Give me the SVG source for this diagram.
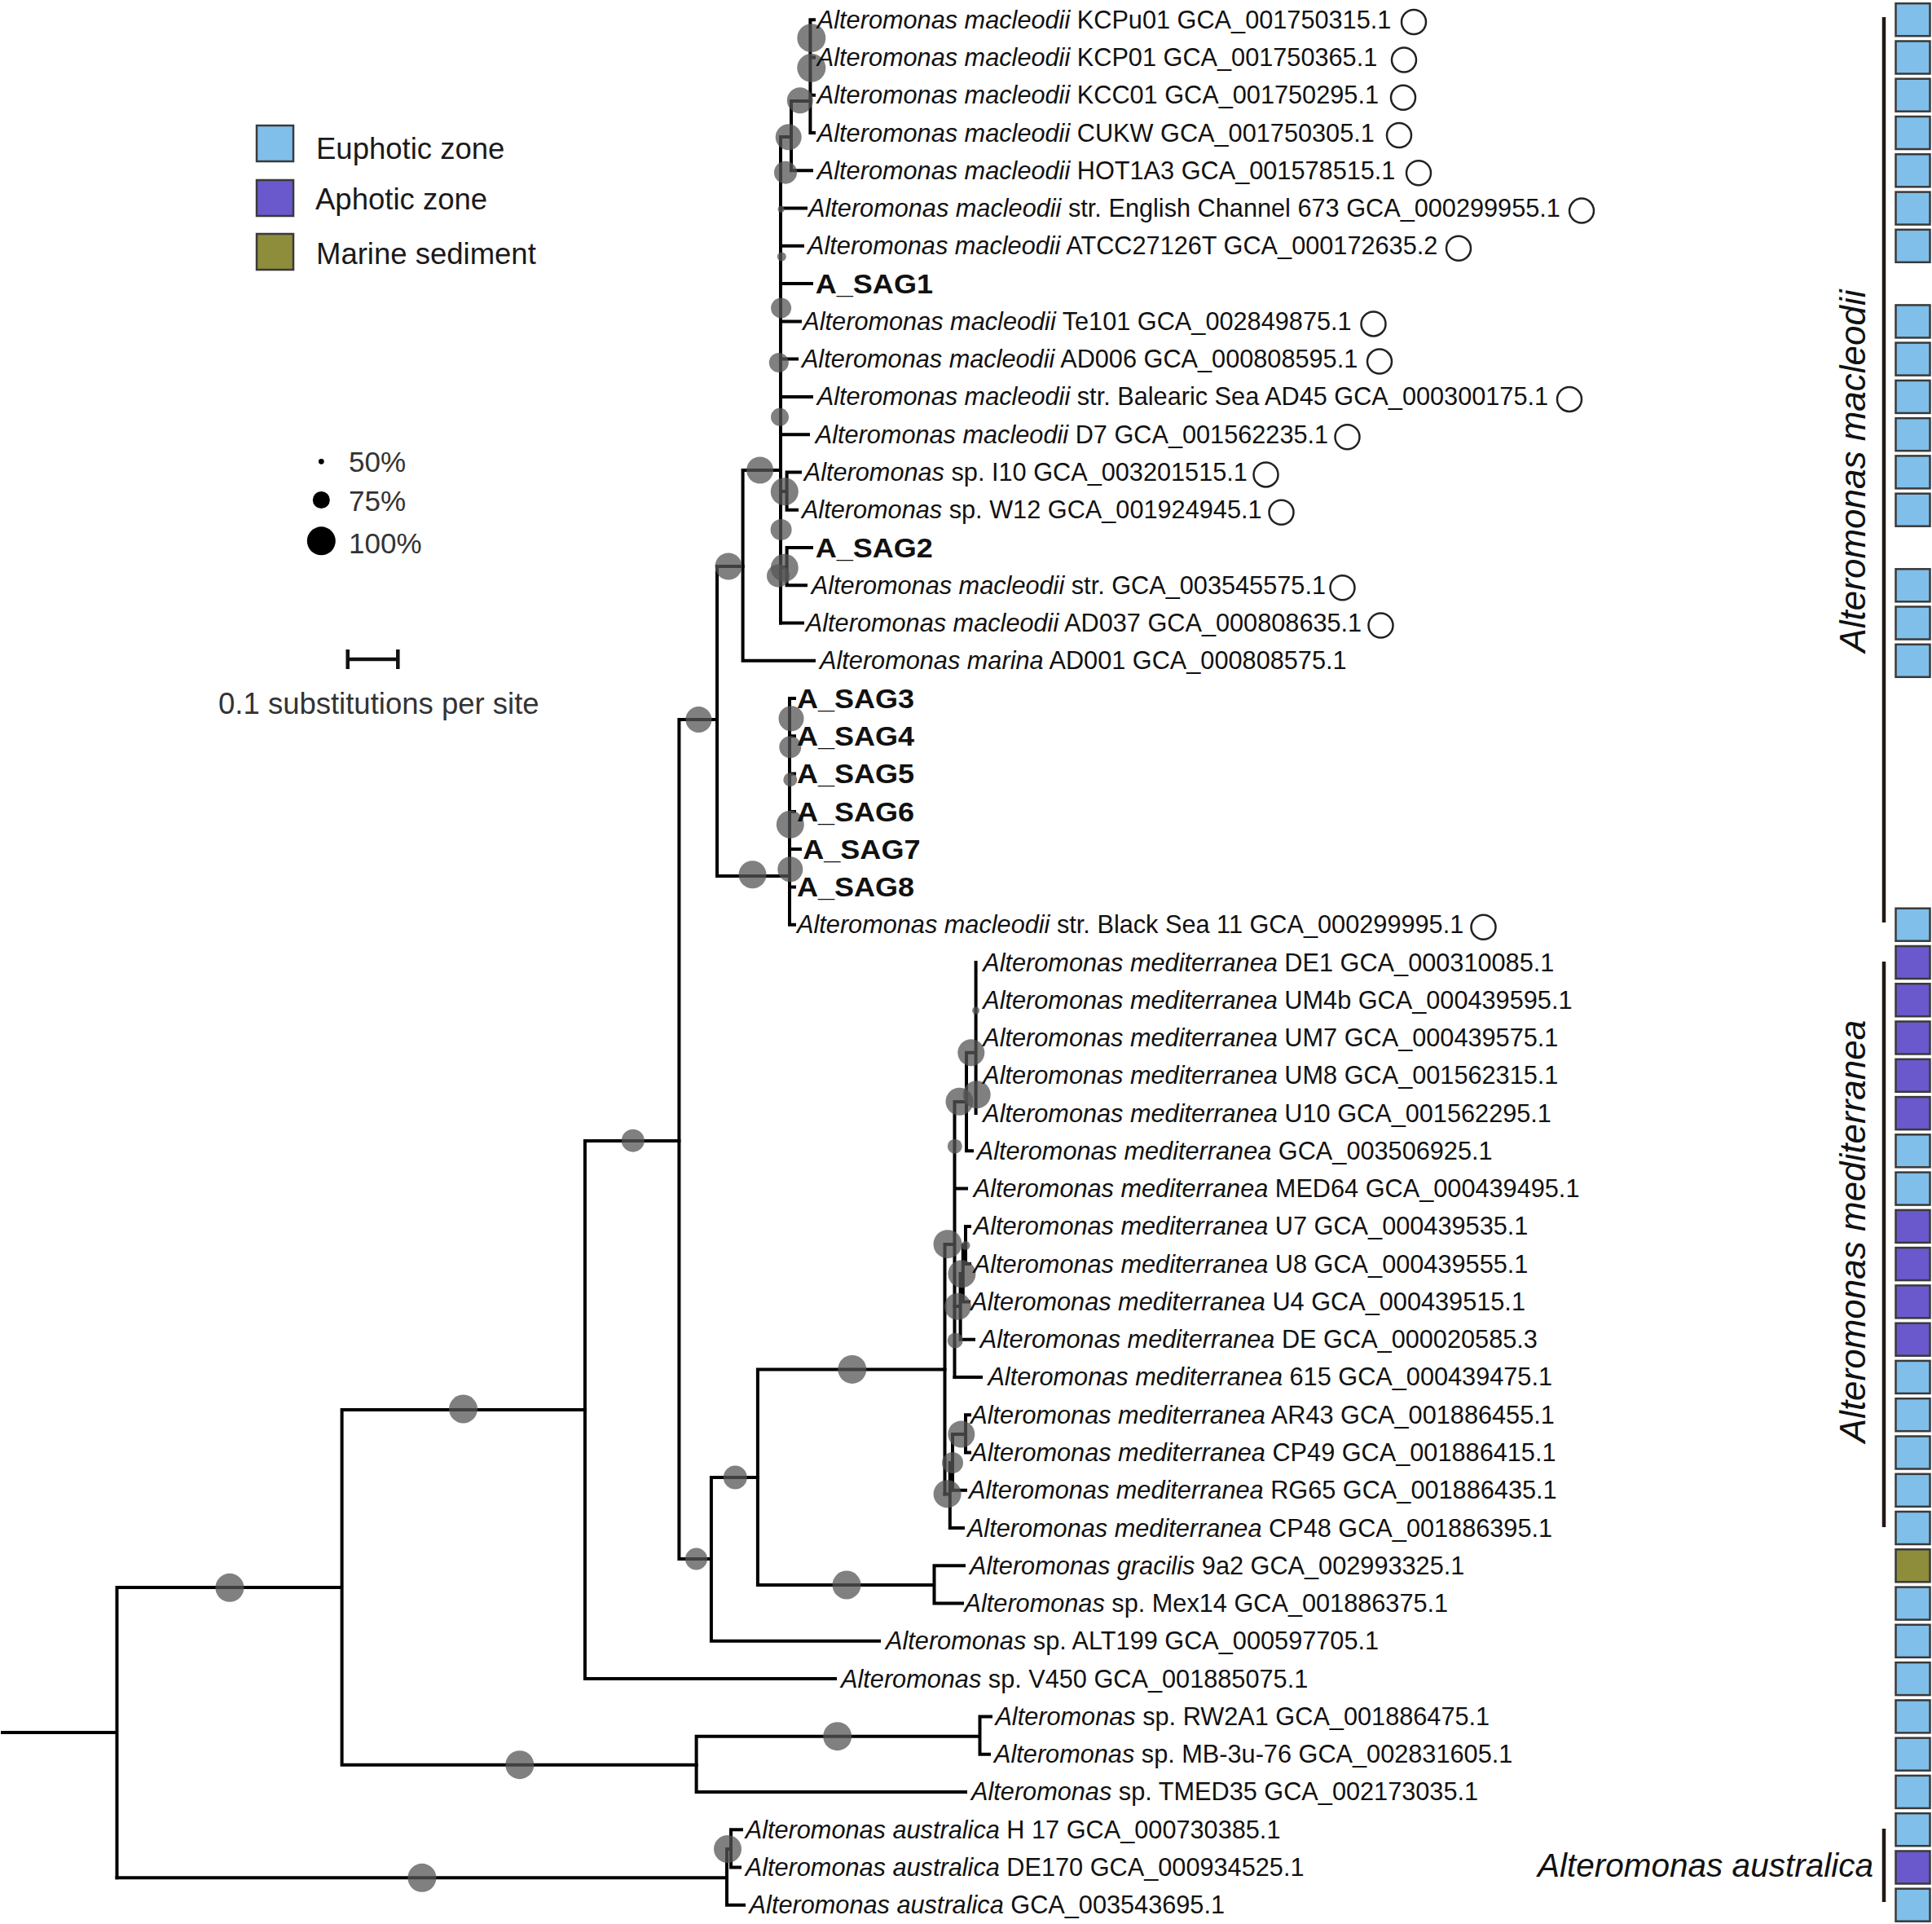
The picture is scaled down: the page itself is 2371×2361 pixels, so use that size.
<svg xmlns="http://www.w3.org/2000/svg" width="2371" height="2361" viewBox="0 0 2371 2361">
<style>
text{font-family:"Liberation Sans",Arial,sans-serif;fill:#111}
.t{font-size:30.7px}
.i{font-style:italic}
.b{font-weight:bold;font-size:34px}
.lg{font-size:36.5px;fill:#1a1a1a}
.pc{font-size:35px;fill:#333}
.cl{font-size:44px;font-style:italic}
.e{fill:none;stroke:#000;stroke-width:4;stroke-linecap:square}
.s{fill:#555;fill-opacity:.75}
.oc{fill:none;stroke:#222;stroke-width:2.5}
.sq{stroke:#3a3a3a;stroke-width:2.5}
.eu{fill:#7fbfea}.ap{fill:#6959cd}.ms{fill:#8d8d3b}
.bar{stroke:#231815;stroke-width:4.5;fill:none}
</style>
<rect width="2371" height="2361" fill="#fff"/>

<g id="connectors" class="e">
<path d="M3,2126H143.5M143.5,1948V2304.3M143.5,1948H419.6M419.6,1730V2165.7M419.6,1730H717.9M419.6,2165.7H854.6"/>
<path d="M854.6,2130.7V2199M854.6,2130.7H1202.5M1202.5,2106.4V2152.7M1202.5,2106.4H1216M1202.5,2152.7H1214M854.6,2199H1185"/>
<path d="M143.5,2304.3H892M892,2269V2337.7M892,2269H897M897,2245.2V2291.5M897,2245.2H910M897,2291.5H908M892,2337.7H913"/>
<path d="M717.9,1400V2060.1M717.9,1400H833.4M717.9,2060.1H1025"/>
<path d="M833.4,883V1913M833.4,883H880M833.4,1913H872.9M872.9,1813V2013.8M872.9,1813H929.9M872.9,2013.8H1079"/>
<path d="M929.9,1680.4V1945M929.9,1680.4H1159.5M929.9,1945H1146.5M1146.5,1921.3V1967.6M1146.5,1921.3H1183M1146.5,1967.6H1181"/>
<path d="M880,695V1075M880,695H911.6M880,1075H969M969,857.1V1134.7M969,857.1H975M969,903.3H975M969,949.6H975M969,995.9H975M969,1042.1H982M969,1088.4H975M969,1134.7H975"/>
<path d="M911.6,577V810.8M911.6,577H958M911.6,810.8H999"/>
<path d="M958,168V764.5M958,168H971M971,124V209.3M971,124H994.4M994.4,24.2V163M994.4,24.2H999M994.4,70.5H999M994.4,116.7H999M994.4,163H999M971,209.3H996"/>
<path d="M958,255.6H989M958,301.8H985M958,348.1H996M958,394.4H982M958,440.6H978M958,486.9H996M958,533.2H992"/>
<path d="M958,603H965.6M965.6,579.4V625.7M965.6,579.4H982M965.6,625.7H978M958,696H965.6M965.6,672V718.3M965.6,672H996M965.6,718.3H989M958,764.5H985"/>
<path d="M1159.5,1527V1833.4M1159.5,1527H1171.5M1171.5,1352V1689.9M1171.5,1352H1186M1186,1291.7V1412.3M1186,1291.7H1197.6M1197.6,1181V1366.1M1186,1412.3H1193M1171.5,1458.6H1186"/>
<path d="M1171.5,1603H1178.6M1178.6,1563V1643.7M1178.6,1563H1181.8M1181.8,1528V1597.4M1181.8,1528H1185M1185,1504.9V1551.1M1185,1504.9H1190M1185,1551.1H1190M1181.8,1597.4H1189M1178.6,1643.7H1195M1171.5,1689.9H1204"/>
<path d="M1159.5,1833.4H1165.8M1165.8,1795V1875M1165.8,1875H1182M1165.8,1795H1169M1169,1760V1828.8M1169,1828.8H1185M1169,1760H1185M1185,1736.2V1782.5M1185,1736.2H1190M1185,1782.5H1190"/>
</g>

<g id="support">
<circle class="s" cx="995.8" cy="46.7" r="17.5"/><circle class="s" cx="995.8" cy="83.3" r="17.5"/>
<circle class="s" cx="981.8" cy="123.3" r="16"/><circle class="s" cx="967.7" cy="168.3" r="16"/>
<circle class="s" cx="964" cy="211.7" r="14"/><circle class="s" cx="958.6" cy="256.7" r="4"/>
<circle class="s" cx="959.3" cy="315" r="5.5"/><circle class="s" cx="958.6" cy="378" r="12.5"/>
<circle class="s" cx="955.8" cy="445" r="12"/><circle class="s" cx="957" cy="511.7" r="11"/>
<circle class="s" cx="962.8" cy="603.3" r="17"/><circle class="s" cx="958.6" cy="650" r="13"/>
<circle class="s" cx="962.8" cy="696.7" r="17"/><circle class="s" cx="955" cy="706.7" r="14"/>
<circle class="s" cx="932.6" cy="577" r="16.5"/><circle class="s" cx="894" cy="695" r="16.5"/>
<circle class="s" cx="923.5" cy="1073.3" r="17"/><circle class="s" cx="971" cy="881.7" r="15.5"/>
<circle class="s" cx="969.8" cy="916.7" r="13.5"/><circle class="s" cx="969.8" cy="956.7" r="8.5"/>
<circle class="s" cx="969.8" cy="1011.7" r="17"/><circle class="s" cx="969.8" cy="1066.7" r="15.5"/>
<circle class="s" cx="857.4" cy="883" r="16"/><circle class="s" cx="776.8" cy="1399.7" r="14"/>
<circle class="s" cx="854.5" cy="1913" r="13.5"/><circle class="s" cx="902.3" cy="1813" r="14.5"/>
<circle class="s" cx="1045.8" cy="1680.4" r="17.5"/><circle class="s" cx="1039" cy="1945" r="17.5"/>
<circle class="s" cx="568.5" cy="1729" r="17.5"/><circle class="s" cx="281.9" cy="1948.3" r="17.5"/>
<circle class="s" cx="637.8" cy="2165.7" r="17.5"/><circle class="s" cx="1027.7" cy="2130.7" r="17.5"/>
<circle class="s" cx="517.9" cy="2304.3" r="17.5"/><circle class="s" cx="893" cy="2269" r="17"/>
<circle class="s" cx="1197.6" cy="1240" r="4.5"/><circle class="s" cx="1191.8" cy="1291.7" r="16.5"/>
<circle class="s" cx="1198.7" cy="1343.3" r="17"/><circle class="s" cx="1177.5" cy="1351.7" r="17"/>
<circle class="s" cx="1171.8" cy="1406.7" r="9"/><circle class="s" cx="1163" cy="1526.7" r="17.5"/>
<circle class="s" cx="1185" cy="1528.3" r="5.5"/><circle class="s" cx="1180.4" cy="1563.3" r="17"/>
<circle class="s" cx="1175.4" cy="1603.3" r="16.5"/><circle class="s" cx="1172.2" cy="1645" r="9.5"/>
<circle class="s" cx="1179.8" cy="1760" r="16.5"/><circle class="s" cx="1169" cy="1795" r="13"/>
<circle class="s" cx="1162.6" cy="1833.3" r="17"/>
</g>

<g id="leaf01"><text class="t" x="1002.8" y="34.7"><tspan class="i">Alteromonas macleodii</tspan> KCPu01 GCA_001750315.1</text><circle class="oc" cx="1735" cy="27" r="15"/></g>
<g id="leaf02"><text class="t" x="1002.8" y="81"><tspan class="i">Alteromonas macleodii</tspan> KCP01 GCA_001750365.1</text><circle class="oc" cx="1723" cy="73.5" r="15"/></g>
<g id="leaf03"><text class="t" x="1002.8" y="127.2"><tspan class="i">Alteromonas macleodii</tspan> KCC01 GCA_001750295.1</text><circle class="oc" cx="1722" cy="119.7" r="15"/></g>
<g id="leaf04"><text class="t" x="1002.8" y="173.5"><tspan class="i">Alteromonas macleodii</tspan> CUKW GCA_001750305.1</text><circle class="oc" cx="1717" cy="166" r="15"/></g>
<g id="leaf05"><text class="t" x="1002.8" y="219.8"><tspan class="i">Alteromonas macleodii</tspan> HOT1A3 GCA_001578515.1</text><circle class="oc" cx="1741" cy="212.3" r="15"/></g>
<g id="leaf06"><text class="t" x="992" y="266.1"><tspan class="i">Alteromonas macleodii</tspan> str. English Channel 673 GCA_000299955.1</text><circle class="oc" cx="1941" cy="258.6" r="15"/></g>
<g id="leaf07"><text class="t" x="991" y="312.3"><tspan class="i">Alteromonas macleodii</tspan> ATCC27126T GCA_000172635.2</text><circle class="oc" cx="1790" cy="304.8" r="15"/></g>
<g id="leaf08"><text class="b" transform="translate(1000.8,359.8) scale(1.06,1)">A_SAG1</text></g>
<g id="leaf09"><text class="t" x="985.3" y="404.9"><tspan class="i">Alteromonas macleodii</tspan> Te101 GCA_002849875.1</text><circle class="oc" cx="1685.5" cy="397.4" r="15"/></g>
<g id="leaf10"><text class="t" x="983.9" y="451.1"><tspan class="i">Alteromonas macleodii</tspan> AD006 GCA_000808595.1</text><circle class="oc" cx="1693" cy="443.6" r="15"/></g>
<g id="leaf11"><text class="t" x="1002.8" y="497.4"><tspan class="i">Alteromonas macleodii</tspan> str. Balearic Sea AD45 GCA_000300175.1</text><circle class="oc" cx="1926" cy="489.9" r="15"/></g>
<g id="leaf12"><text class="t" x="1000.7" y="543.7"><tspan class="i">Alteromonas macleodii</tspan> D7 GCA_001562235.1</text><circle class="oc" cx="1653.5" cy="536.2" r="15"/></g>
<g id="leaf13"><text class="t" x="986.7" y="589.9"><tspan class="i">Alteromonas</tspan> sp. I10 GCA_003201515.1</text><circle class="oc" cx="1553.5" cy="582.4" r="15"/></g>
<g id="leaf14"><text class="t" x="983.9" y="636.2"><tspan class="i">Alteromonas</tspan> sp. W12 GCA_001924945.1</text><circle class="oc" cx="1572.5" cy="628.7" r="15"/></g>
<g id="leaf15"><text class="b" transform="translate(1000.7,683.7) scale(1.06,1)">A_SAG2</text></g>
<g id="leaf16"><text class="t" x="995.8" y="728.8"><tspan class="i">Alteromonas macleodii</tspan> str. GCA_003545575.1</text><circle class="oc" cx="1647.5" cy="721.3" r="15"/></g>
<g id="leaf17"><text class="t" x="988.8" y="775"><tspan class="i">Alteromonas macleodii</tspan> AD037 GCA_000808635.1</text><circle class="oc" cx="1694.5" cy="767.5" r="15"/></g>
<g id="leaf18"><text class="t" x="1006" y="821.3"><tspan class="i">Alteromonas marina</tspan> AD001 GCA_000808575.1</text></g>
<g id="leaf19"><text class="b" transform="translate(978,868.8) scale(1.06,1)">A_SAG3</text></g>
<g id="leaf20"><text class="b" transform="translate(978,915) scale(1.06,1)">A_SAG4</text></g>
<g id="leaf21"><text class="b" transform="translate(978,961.3) scale(1.06,1)">A_SAG5</text></g>
<g id="leaf22"><text class="b" transform="translate(978,1007.6) scale(1.06,1)">A_SAG6</text></g>
<g id="leaf23"><text class="b" transform="translate(985.3,1053.8) scale(1.06,1)">A_SAG7</text></g>
<g id="leaf24"><text class="b" transform="translate(978,1100.1) scale(1.06,1)">A_SAG8</text></g>
<g id="leaf25"><text class="t" x="978" y="1145.2"><tspan class="i">Alteromonas macleodii</tspan> str. Black Sea 11 GCA_000299995.1</text><circle class="oc" cx="1820.5" cy="1137.7" r="15"/></g>
<g id="leaf26"><text class="t" x="1206.2" y="1191.5"><tspan class="i">Alteromonas mediterranea</tspan> DE1 GCA_000310085.1</text></g>
<g id="leaf27"><text class="t" x="1206.2" y="1237.7"><tspan class="i">Alteromonas mediterranea</tspan> UM4b GCA_000439595.1</text></g>
<g id="leaf28"><text class="t" x="1206.2" y="1284"><tspan class="i">Alteromonas mediterranea</tspan> UM7 GCA_000439575.1</text></g>
<g id="leaf29"><text class="t" x="1206.2" y="1330.3"><tspan class="i">Alteromonas mediterranea</tspan> UM8 GCA_001562315.1</text></g>
<g id="leaf30"><text class="t" x="1206.2" y="1376.6"><tspan class="i">Alteromonas mediterranea</tspan> U10 GCA_001562295.1</text></g>
<g id="leaf31"><text class="t" x="1198.7" y="1422.8"><tspan class="i">Alteromonas mediterranea</tspan> GCA_003506925.1</text></g>
<g id="leaf32"><text class="t" x="1194.7" y="1469.1"><tspan class="i">Alteromonas mediterranea</tspan> MED64 GCA_000439495.1</text></g>
<g id="leaf33"><text class="t" x="1194.7" y="1515.4"><tspan class="i">Alteromonas mediterranea</tspan> U7 GCA_000439535.1</text></g>
<g id="leaf34"><text class="t" x="1194.7" y="1561.6"><tspan class="i">Alteromonas mediterranea</tspan> U8 GCA_000439555.1</text></g>
<g id="leaf35"><text class="t" x="1191.3" y="1607.9"><tspan class="i">Alteromonas mediterranea</tspan> U4 GCA_000439515.1</text></g>
<g id="leaf36"><text class="t" x="1202.8" y="1654.2"><tspan class="i">Alteromonas mediterranea</tspan> DE GCA_000020585.3</text></g>
<g id="leaf37"><text class="t" x="1212.4" y="1700.4"><tspan class="i">Alteromonas mediterranea</tspan> 615 GCA_000439475.1</text></g>
<g id="leaf38"><text class="t" x="1191.3" y="1746.7"><tspan class="i">Alteromonas mediterranea</tspan> AR43 GCA_001886455.1</text></g>
<g id="leaf39"><text class="t" x="1191.3" y="1793"><tspan class="i">Alteromonas mediterranea</tspan> CP49 GCA_001886415.1</text></g>
<g id="leaf40"><text class="t" x="1189" y="1839.3"><tspan class="i">Alteromonas mediterranea</tspan> RG65 GCA_001886435.1</text></g>
<g id="leaf41"><text class="t" x="1186.9" y="1885.5"><tspan class="i">Alteromonas mediterranea</tspan> CP48 GCA_001886395.1</text></g>
<g id="leaf42"><text class="t" x="1190" y="1931.8"><tspan class="i">Alteromonas gracilis</tspan> 9a2 GCA_002993325.1</text></g>
<g id="leaf43"><text class="t" x="1183.5" y="1978.1"><tspan class="i">Alteromonas</tspan> sp. Mex14 GCA_001886375.1</text></g>
<g id="leaf44"><text class="t" x="1087" y="2024.3"><tspan class="i">Alteromonas</tspan> sp. ALT199 GCA_000597705.1</text></g>
<g id="leaf45"><text class="t" x="1032" y="2070.6"><tspan class="i">Alteromonas</tspan> sp. V450 GCA_001885075.1</text></g>
<g id="leaf46"><text class="t" x="1221.4" y="2116.9"><tspan class="i">Alteromonas</tspan> sp. RW2A1 GCA_001886475.1</text></g>
<g id="leaf47"><text class="t" x="1220" y="2163.2"><tspan class="i">Alteromonas</tspan> sp. MB-3u-76 GCA_002831605.1</text></g>
<g id="leaf48"><text class="t" x="1192" y="2209.4"><tspan class="i">Alteromonas</tspan> sp. TMED35 GCA_002173035.1</text></g>
<g id="leaf49"><text class="t" x="914.7" y="2255.7"><tspan class="i">Alteromonas australica</tspan> H 17 GCA_000730385.1</text></g>
<g id="leaf50"><text class="t" x="914.7" y="2302"><tspan class="i">Alteromonas australica</tspan> DE170 GCA_000934525.1</text></g>
<g id="leaf51"><text class="t" x="919.6" y="2348.2"><tspan class="i">Alteromonas australica</tspan> GCA_003543695.1</text></g>

<g id="habitat" class="sq">
<rect class="eu" x="2326.5" y="4.2" width="42" height="40"/>
<rect class="eu" x="2326.5" y="50.5" width="42" height="40"/>
<rect class="eu" x="2326.5" y="96.7" width="42" height="40"/>
<rect class="eu" x="2326.5" y="143" width="42" height="40"/>
<rect class="eu" x="2326.5" y="189.3" width="42" height="40"/>
<rect class="eu" x="2326.5" y="235.6" width="42" height="40"/>
<rect class="eu" x="2326.5" y="281.8" width="42" height="40"/>
<rect class="eu" x="2326.5" y="374.4" width="42" height="40"/>
<rect class="eu" x="2326.5" y="420.6" width="42" height="40"/>
<rect class="eu" x="2326.5" y="466.9" width="42" height="40"/>
<rect class="eu" x="2326.5" y="513.2" width="42" height="40"/>
<rect class="eu" x="2326.5" y="559.4" width="42" height="40"/>
<rect class="eu" x="2326.5" y="605.7" width="42" height="40"/>
<rect class="eu" x="2326.5" y="698.3" width="42" height="40"/>
<rect class="eu" x="2326.5" y="744.5" width="42" height="40"/>
<rect class="eu" x="2326.5" y="790.8" width="42" height="40"/>
<rect class="eu" x="2326.5" y="1114.7" width="42" height="40"/>
<rect class="ap" x="2326.5" y="1161" width="42" height="40"/>
<rect class="ap" x="2326.5" y="1207.2" width="42" height="40"/>
<rect class="ap" x="2326.5" y="1253.5" width="42" height="40"/>
<rect class="ap" x="2326.5" y="1299.8" width="42" height="40"/>
<rect class="ap" x="2326.5" y="1346.1" width="42" height="40"/>
<rect class="eu" x="2326.5" y="1392.3" width="42" height="40"/>
<rect class="eu" x="2326.5" y="1438.6" width="42" height="40"/>
<rect class="ap" x="2326.5" y="1484.9" width="42" height="40"/>
<rect class="ap" x="2326.5" y="1531.1" width="42" height="40"/>
<rect class="ap" x="2326.5" y="1577.4" width="42" height="40"/>
<rect class="ap" x="2326.5" y="1623.7" width="42" height="40"/>
<rect class="eu" x="2326.5" y="1669.9" width="42" height="40"/>
<rect class="eu" x="2326.5" y="1716.2" width="42" height="40"/>
<rect class="eu" x="2326.5" y="1762.5" width="42" height="40"/>
<rect class="eu" x="2326.5" y="1808.8" width="42" height="40"/>
<rect class="eu" x="2326.5" y="1855" width="42" height="40"/>
<rect class="ms" x="2326.5" y="1901.3" width="42" height="40"/>
<rect class="eu" x="2326.5" y="1947.6" width="42" height="40"/>
<rect class="eu" x="2326.5" y="1993.8" width="42" height="40"/>
<rect class="eu" x="2326.5" y="2040.1" width="42" height="40"/>
<rect class="eu" x="2326.5" y="2086.4" width="42" height="40"/>
<rect class="eu" x="2326.5" y="2132.7" width="42" height="40"/>
<rect class="eu" x="2326.5" y="2178.9" width="42" height="40"/>
<rect class="eu" x="2326.5" y="2225.2" width="42" height="40"/>
<rect class="ap" x="2326.5" y="2271.5" width="42" height="40"/>
<rect class="eu" x="2326.5" y="2317.7" width="42" height="40"/>
</g>

<g id="clades">
<path class="bar" d="M2312,21V1132M2312,1180V1874M2312,2244V2334"/>
<text class="cl" transform="translate(2289,578) rotate(-90)" text-anchor="middle">Alteromonas macleodii</text>
<text class="cl" transform="translate(2289,1511) rotate(-90)" text-anchor="middle">Alteromonas mediterranea</text>
<text class="cl" style="font-size:40.5px" x="1887" y="2303">Alteromonas australica</text>
</g>

<g id="legend">
<rect class="sq eu" x="315" y="154" width="45" height="44"/>
<rect class="sq ap" x="315" y="221" width="45" height="44"/>
<rect class="sq ms" x="315" y="287" width="45" height="44"/>
<text class="lg" x="388" y="194.5">Euphotic zone</text>
<text class="lg" x="387" y="257">Aphotic zone</text>
<text class="lg" x="388" y="324">Marine sediment</text>
<circle cx="394.3" cy="566.3" r="3.4" fill="#000"/>
<circle cx="394.3" cy="613.5" r="10.5" fill="#000"/>
<circle cx="394.3" cy="663.8" r="17.5" fill="#000"/>
<text class="pc" x="428" y="579">50%</text>
<text class="pc" x="428" y="626.5">75%</text>
<text class="pc" x="428" y="678.5">100%</text>
<path d="M426.7,809H488.3M426.7,797V821M488.3,797V821" fill="none" stroke="#111" stroke-width="4.5"/>
<text class="lg" style="fill:#333" x="268" y="876">0.1 substitutions per site</text>
</g>
</svg>
